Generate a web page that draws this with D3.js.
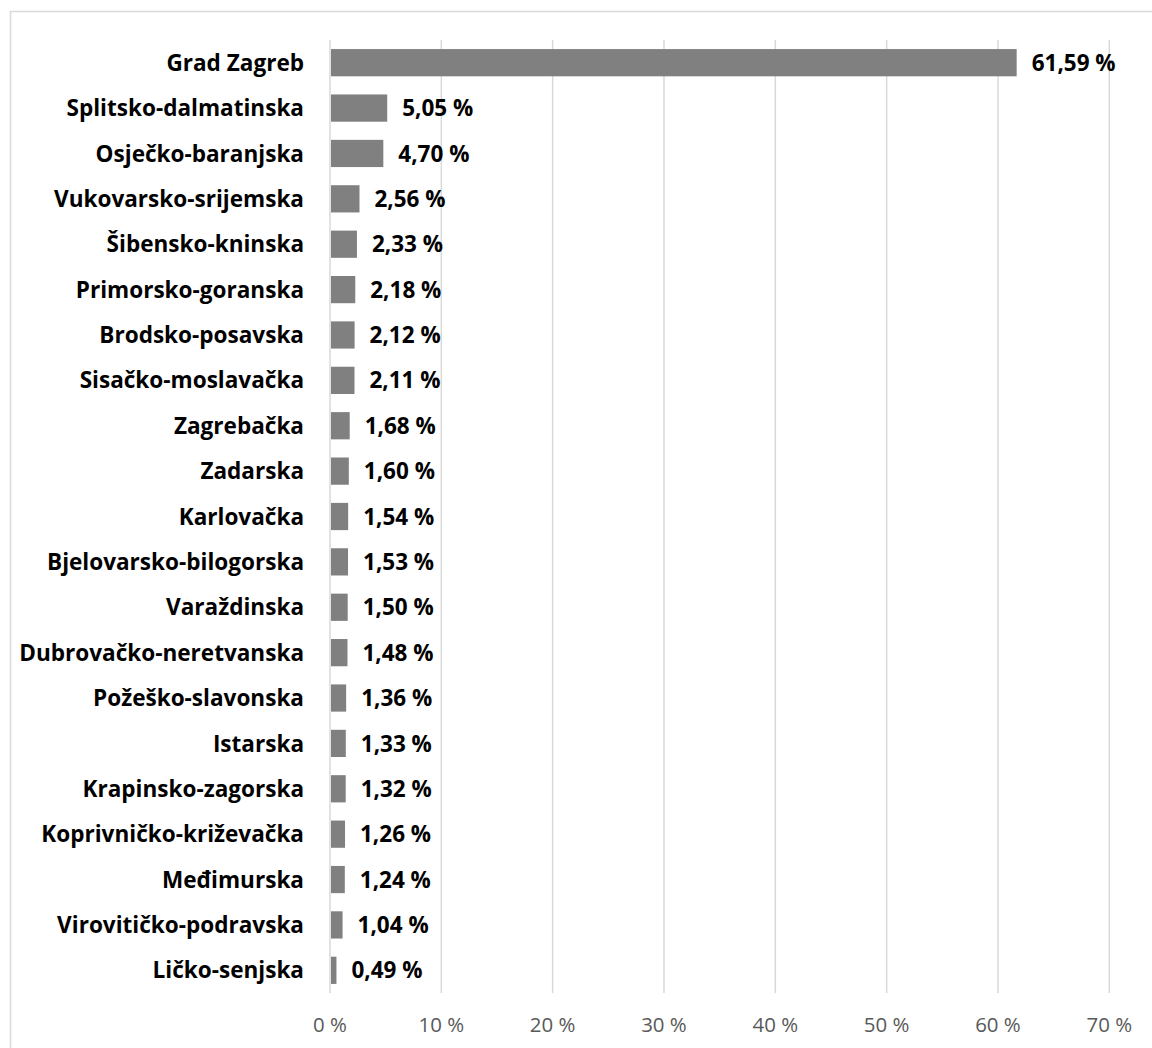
<!DOCTYPE html>
<html><head><meta charset="utf-8">
<script src="https://cdn.jsdelivr.net/npm/d3@7"></script>
<style>body{margin:0;background:#fff}svg{display:block}</style>
</head><body>
<script>
const categories = ["Grad Zagreb","Splitsko-dalmatinska","Osječko-baranjska","Vukovarsko-srijemska","Šibensko-kninska","Primorsko-goranska","Brodsko-posavska","Sisačko-moslavačka","Zagrebačka","Zadarska","Karlovačka","Bjelovarsko-bilogorska","Varaždinska","Dubrovačko-neretvanska","Požeško-slavonska","Istarska","Krapinsko-zagorska","Koprivničko-križevačka","Međimurska","Virovitičko-podravska","Ličko-senjska"];
const values = [61.59,5.05,4.70,2.56,2.33,2.18,2.12,2.11,1.68,1.60,1.54,1.53,1.50,1.48,1.36,1.33,1.32,1.26,1.24,1.04,0.49];
const ticks = [0,10,20,30,40,50,60,70];

const W=1152,H=1048;
const svg=d3.select("body").append("svg").attr("width",W).attr("height",H);
svg.append("rect").attr("x",10.5).attr("y",11.5).attr("width",W+10).attr("height",H+10)
  .attr("fill","#fff").attr("stroke","#d9d9d9").attr("stroke-width",1.5);

const x=d3.scaleLinear().domain([0,70]).range([330,1109.3]);
const y=d3.scaleBand().domain(categories).range([40,993]).paddingInner(0.4).paddingOuter(0.2);
const font="'Open Sans', sans-serif";

function fitSize(str, weight, target){
  const t=svg.append("text").attr("font-family",font).attr("font-weight",weight).attr("font-size",20).text(str);
  const w=t.node().getComputedTextLength(); t.remove();
  return 20*target/w;
}
const catSize=fitSize("Dubrovačko-neretvanska","bold",285);
const valSize=fitSize("61,59 %","bold",84);
const tickSize=fitSize("70 %","normal",45.6);

svg.append("g").selectAll("line").data(ticks).join("line")
  .attr("x1",d=>x(d)).attr("x2",d=>x(d)).attr("y1",40).attr("y2",993)
  .attr("stroke","#d9d9d9").attr("stroke-width",1.5);

svg.append("g").selectAll("rect").data(values).join("rect")
  .attr("x",x(0)+1).attr("y",(d,i)=>y(categories[i]))
  .attr("width",d=>x(d)-x(0)).attr("height",y.bandwidth()).attr("fill","#808080");

svg.append("g").selectAll("text").data(values).join("text")
  .attr("x",d=>x(d)+16).attr("y",(d,i)=>y(categories[i])+y.bandwidth()/2)
  .attr("dy","0.36em").attr("font-family",font).attr("font-weight","bold")
  .attr("font-size",valSize).attr("fill","#000")
  .text(d=>d.toFixed(2).replace(".",",")+" %");

svg.append("g").selectAll("text").data(categories).join("text")
  .attr("x",304).attr("y",d=>y(d)+y.bandwidth()/2).attr("dy","0.36em")
  .attr("text-anchor","end").attr("font-family",font).attr("font-weight","bold")
  .attr("font-size",catSize).attr("fill","#000").text(d=>d);

svg.append("g").selectAll("text").data(ticks).join("text")
  .attr("x",d=>x(d)).attr("y",1025).attr("dy","0.36em").attr("text-anchor","middle")
  .attr("font-family",font).attr("font-size",tickSize).attr("fill","#595959")
  .text(d=>d+" %");
</script>
</body></html>
